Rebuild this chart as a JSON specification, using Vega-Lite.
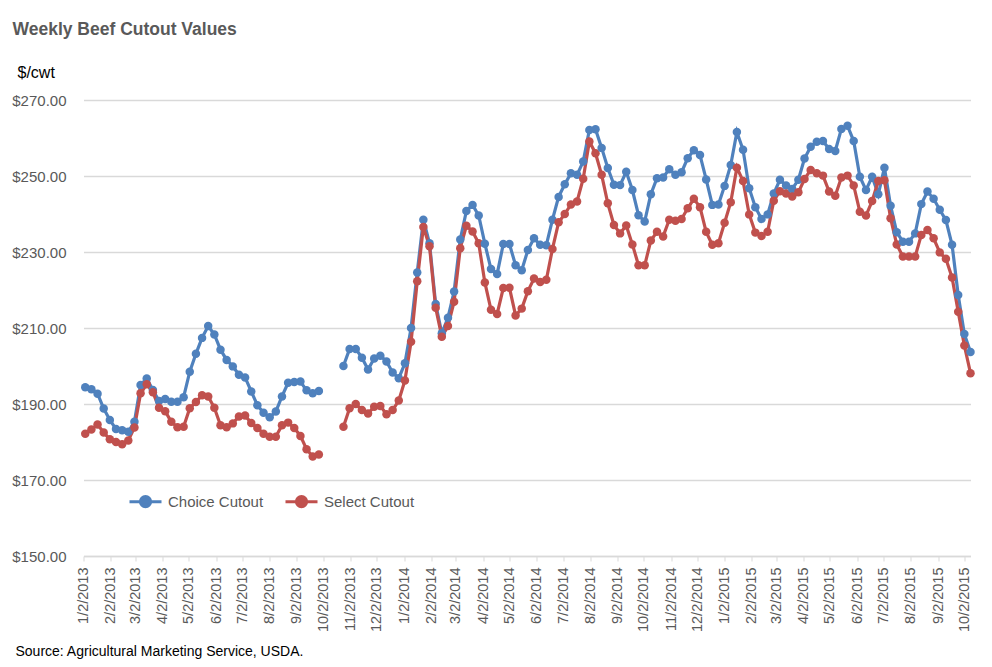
{
  "$schema": "https://vega.github.io/schema/vega-lite/v6.json",
  "autosize": {"type": "none"},
  "width": 887,
  "height": 456,
  "padding": {"left": 83.5, "top": 100, "right": 21.5, "bottom": 111},
  "background": "white",
  "config": {
    "view": {"stroke": null},
    "font": "Liberation Sans"
  },
  "title": {
    "text": "Weekly Beef Cutout Values",
    "anchor": "start",
    "frame": "group",
    "font": "Liberation Sans",
    "fontSize": 17.5,
    "fontWeight": "bold",
    "color": "#595959",
    "dx": -71,
    "offset": 26
  },
  "data": {
    "values": [
      {"date": "2013-01-04", "Choice Cutout": 194.4, "Select Cutout": 182.2},
      {"date": "2013-01-11", "Choice Cutout": 193.9, "Select Cutout": 183.3},
      {"date": "2013-01-18", "Choice Cutout": 192.7, "Select Cutout": 184.6},
      {"date": "2013-01-25", "Choice Cutout": 188.8, "Select Cutout": 182.5},
      {"date": "2013-02-01", "Choice Cutout": 185.8, "Select Cutout": 180.7},
      {"date": "2013-02-08", "Choice Cutout": 183.4, "Select Cutout": 180.0},
      {"date": "2013-02-15", "Choice Cutout": 183.1, "Select Cutout": 179.4},
      {"date": "2013-02-22", "Choice Cutout": 182.7, "Select Cutout": 180.4},
      {"date": "2013-03-01", "Choice Cutout": 185.3, "Select Cutout": 183.8},
      {"date": "2013-03-08", "Choice Cutout": 195.0, "Select Cutout": 192.8},
      {"date": "2013-03-15", "Choice Cutout": 196.7, "Select Cutout": 195.2},
      {"date": "2013-03-22", "Choice Cutout": 193.7, "Select Cutout": 193.1},
      {"date": "2013-03-29", "Choice Cutout": 190.8, "Select Cutout": 189.0},
      {"date": "2013-04-05", "Choice Cutout": 191.3, "Select Cutout": 188.1},
      {"date": "2013-04-12", "Choice Cutout": 190.6, "Select Cutout": 185.3},
      {"date": "2013-04-19", "Choice Cutout": 190.6, "Select Cutout": 183.9},
      {"date": "2013-04-26", "Choice Cutout": 191.8, "Select Cutout": 184.0},
      {"date": "2013-05-03", "Choice Cutout": 198.5, "Select Cutout": 188.9},
      {"date": "2013-05-10", "Choice Cutout": 203.2, "Select Cutout": 190.5},
      {"date": "2013-05-17", "Choice Cutout": 207.4, "Select Cutout": 192.3},
      {"date": "2013-05-24", "Choice Cutout": 210.5, "Select Cutout": 192.0},
      {"date": "2013-05-31", "Choice Cutout": 208.3, "Select Cutout": 189.0},
      {"date": "2013-06-07", "Choice Cutout": 204.3, "Select Cutout": 184.4},
      {"date": "2013-06-14", "Choice Cutout": 201.6, "Select Cutout": 183.9},
      {"date": "2013-06-21", "Choice Cutout": 199.9, "Select Cutout": 184.9},
      {"date": "2013-06-28", "Choice Cutout": 197.7, "Select Cutout": 186.7},
      {"date": "2013-07-05", "Choice Cutout": 197.0, "Select Cutout": 187.0},
      {"date": "2013-07-12", "Choice Cutout": 193.3, "Select Cutout": 185.0},
      {"date": "2013-07-19", "Choice Cutout": 189.7, "Select Cutout": 183.7},
      {"date": "2013-07-26", "Choice Cutout": 187.7, "Select Cutout": 182.2},
      {"date": "2013-08-02", "Choice Cutout": 186.5, "Select Cutout": 181.4},
      {"date": "2013-08-09", "Choice Cutout": 188.0, "Select Cutout": 181.4},
      {"date": "2013-08-16", "Choice Cutout": 192.0, "Select Cutout": 184.4},
      {"date": "2013-08-23", "Choice Cutout": 195.6, "Select Cutout": 185.1},
      {"date": "2013-08-30", "Choice Cutout": 195.8, "Select Cutout": 183.7},
      {"date": "2013-09-06", "Choice Cutout": 195.9, "Select Cutout": 181.6},
      {"date": "2013-09-13", "Choice Cutout": 193.6, "Select Cutout": 178.1},
      {"date": "2013-09-20", "Choice Cutout": 192.8, "Select Cutout": 176.2},
      {"date": "2013-09-27", "Choice Cutout": 193.4, "Select Cutout": 176.7},
      {"date": "2013-10-04", "Choice Cutout": null, "Select Cutout": null},
      {"date": "2013-10-11", "Choice Cutout": null, "Select Cutout": null},
      {"date": "2013-10-18", "Choice Cutout": null, "Select Cutout": null},
      {"date": "2013-10-25", "Choice Cutout": 200.0, "Select Cutout": 184.0},
      {"date": "2013-11-01", "Choice Cutout": 204.5, "Select Cutout": 188.9},
      {"date": "2013-11-08", "Choice Cutout": 204.5, "Select Cutout": 190.0},
      {"date": "2013-11-15", "Choice Cutout": 202.2, "Select Cutout": 188.4},
      {"date": "2013-11-22", "Choice Cutout": 199.1, "Select Cutout": 187.5},
      {"date": "2013-11-29", "Choice Cutout": 202.0, "Select Cutout": 189.3},
      {"date": "2013-12-06", "Choice Cutout": 202.7, "Select Cutout": 189.5},
      {"date": "2013-12-13", "Choice Cutout": 201.2, "Select Cutout": 187.3},
      {"date": "2013-12-20", "Choice Cutout": 198.3, "Select Cutout": 188.4},
      {"date": "2013-12-27", "Choice Cutout": 196.8, "Select Cutout": 190.9},
      {"date": "2014-01-03", "Choice Cutout": 200.7, "Select Cutout": 196.2},
      {"date": "2014-01-10", "Choice Cutout": 210.0, "Select Cutout": 206.4},
      {"date": "2014-01-17", "Choice Cutout": 224.6, "Select Cutout": 222.3},
      {"date": "2014-01-24", "Choice Cutout": 238.5, "Select Cutout": 236.6},
      {"date": "2014-01-31", "Choice Cutout": 232.3, "Select Cutout": 231.5},
      {"date": "2014-02-07", "Choice Cutout": 216.3, "Select Cutout": 215.3},
      {"date": "2014-02-14", "Choice Cutout": 208.6, "Select Cutout": 207.7},
      {"date": "2014-02-21", "Choice Cutout": 212.7, "Select Cutout": 210.5},
      {"date": "2014-02-28", "Choice Cutout": 219.6, "Select Cutout": 216.9},
      {"date": "2014-03-07", "Choice Cutout": 233.3, "Select Cutout": 231.0},
      {"date": "2014-03-14", "Choice Cutout": 240.8, "Select Cutout": 236.9},
      {"date": "2014-03-21", "Choice Cutout": 242.4, "Select Cutout": 235.4},
      {"date": "2014-03-28", "Choice Cutout": 239.6, "Select Cutout": 232.3},
      {"date": "2014-04-04", "Choice Cutout": 232.2, "Select Cutout": 222.0},
      {"date": "2014-04-11", "Choice Cutout": 225.5, "Select Cutout": 214.8},
      {"date": "2014-04-18", "Choice Cutout": 224.2, "Select Cutout": 213.7},
      {"date": "2014-04-25", "Choice Cutout": 232.1, "Select Cutout": 220.5},
      {"date": "2014-05-02", "Choice Cutout": 232.1, "Select Cutout": 220.6},
      {"date": "2014-05-09", "Choice Cutout": 226.5, "Select Cutout": 213.3},
      {"date": "2014-05-16", "Choice Cutout": 225.2, "Select Cutout": 215.1},
      {"date": "2014-05-23", "Choice Cutout": 230.5, "Select Cutout": 219.7},
      {"date": "2014-05-30", "Choice Cutout": 233.6, "Select Cutout": 223.0},
      {"date": "2014-06-06", "Choice Cutout": 231.9, "Select Cutout": 222.1},
      {"date": "2014-06-13", "Choice Cutout": 231.8, "Select Cutout": 222.7},
      {"date": "2014-06-20", "Choice Cutout": 238.5, "Select Cutout": 230.8},
      {"date": "2014-06-27", "Choice Cutout": 244.5, "Select Cutout": 237.8},
      {"date": "2014-07-04", "Choice Cutout": 247.8, "Select Cutout": 240.0},
      {"date": "2014-07-11", "Choice Cutout": 250.7, "Select Cutout": 242.5},
      {"date": "2014-07-18", "Choice Cutout": 250.3, "Select Cutout": 243.3},
      {"date": "2014-07-25", "Choice Cutout": 253.8, "Select Cutout": 249.3},
      {"date": "2014-08-01", "Choice Cutout": 262.1, "Select Cutout": 259.1},
      {"date": "2014-08-08", "Choice Cutout": 262.3, "Select Cutout": 256.0},
      {"date": "2014-08-15", "Choice Cutout": 257.4, "Select Cutout": 250.3},
      {"date": "2014-08-22", "Choice Cutout": 252.1, "Select Cutout": 242.8},
      {"date": "2014-08-29", "Choice Cutout": 247.7, "Select Cutout": 237.1},
      {"date": "2014-09-05", "Choice Cutout": 247.6, "Select Cutout": 234.9},
      {"date": "2014-09-12", "Choice Cutout": 251.1, "Select Cutout": 237.0},
      {"date": "2014-09-19", "Choice Cutout": 246.3, "Select Cutout": 232.0},
      {"date": "2014-09-26", "Choice Cutout": 239.7, "Select Cutout": 226.5},
      {"date": "2014-10-03", "Choice Cutout": 238.0, "Select Cutout": 226.5},
      {"date": "2014-10-10", "Choice Cutout": 245.2, "Select Cutout": 233.0},
      {"date": "2014-10-17", "Choice Cutout": 249.4, "Select Cutout": 235.3},
      {"date": "2014-10-24", "Choice Cutout": 249.6, "Select Cutout": 234.1},
      {"date": "2014-10-31", "Choice Cutout": 251.8, "Select Cutout": 238.5},
      {"date": "2014-11-07", "Choice Cutout": 250.3, "Select Cutout": 238.2},
      {"date": "2014-11-14", "Choice Cutout": 251.0, "Select Cutout": 238.7},
      {"date": "2014-11-21", "Choice Cutout": 254.7, "Select Cutout": 241.5},
      {"date": "2014-11-28", "Choice Cutout": 256.8, "Select Cutout": 244.0},
      {"date": "2014-12-05", "Choice Cutout": 255.5, "Select Cutout": 241.8},
      {"date": "2014-12-12", "Choice Cutout": 249.1, "Select Cutout": 235.3},
      {"date": "2014-12-19", "Choice Cutout": 242.4, "Select Cutout": 231.9},
      {"date": "2014-12-26", "Choice Cutout": 242.5, "Select Cutout": 232.3},
      {"date": "2015-01-02", "Choice Cutout": 247.4, "Select Cutout": 237.7},
      {"date": "2015-01-09", "Choice Cutout": 252.9, "Select Cutout": 243.1},
      {"date": "2015-01-16", "Choice Cutout": 261.6, "Select Cutout": 252.2},
      {"date": "2015-01-23", "Choice Cutout": 256.9, "Select Cutout": 248.7},
      {"date": "2015-01-30", "Choice Cutout": 246.8, "Select Cutout": 239.9},
      {"date": "2015-02-06", "Choice Cutout": 241.8, "Select Cutout": 235.1},
      {"date": "2015-02-13", "Choice Cutout": 238.7, "Select Cutout": 234.2},
      {"date": "2015-02-20", "Choice Cutout": 239.9, "Select Cutout": 235.3},
      {"date": "2015-02-27", "Choice Cutout": 245.4, "Select Cutout": 243.5},
      {"date": "2015-03-06", "Choice Cutout": 249.0, "Select Cutout": 246.0},
      {"date": "2015-03-13", "Choice Cutout": 247.5, "Select Cutout": 245.4},
      {"date": "2015-03-20", "Choice Cutout": 246.6, "Select Cutout": 244.6},
      {"date": "2015-03-27", "Choice Cutout": 249.0, "Select Cutout": 245.7},
      {"date": "2015-04-03", "Choice Cutout": 254.6, "Select Cutout": 249.2},
      {"date": "2015-04-10", "Choice Cutout": 257.7, "Select Cutout": 251.6},
      {"date": "2015-04-17", "Choice Cutout": 259.0, "Select Cutout": 250.7},
      {"date": "2015-04-24", "Choice Cutout": 259.2, "Select Cutout": 250.1},
      {"date": "2015-05-01", "Choice Cutout": 257.1, "Select Cutout": 245.9},
      {"date": "2015-05-08", "Choice Cutout": 256.6, "Select Cutout": 244.8},
      {"date": "2015-05-15", "Choice Cutout": 262.4, "Select Cutout": 249.6},
      {"date": "2015-05-22", "Choice Cutout": 263.2, "Select Cutout": 250.1},
      {"date": "2015-05-29", "Choice Cutout": 259.2, "Select Cutout": 247.5},
      {"date": "2015-06-05", "Choice Cutout": 249.8, "Select Cutout": 240.6},
      {"date": "2015-06-12", "Choice Cutout": 246.3, "Select Cutout": 239.6},
      {"date": "2015-06-19", "Choice Cutout": 249.8, "Select Cutout": 243.4},
      {"date": "2015-06-26", "Choice Cutout": 245.2, "Select Cutout": 248.7},
      {"date": "2015-07-03", "Choice Cutout": 252.2, "Select Cutout": 248.9},
      {"date": "2015-07-10", "Choice Cutout": 242.2, "Select Cutout": 238.9},
      {"date": "2015-07-17", "Choice Cutout": 235.2, "Select Cutout": 232.0},
      {"date": "2015-07-24", "Choice Cutout": 232.7, "Select Cutout": 228.8},
      {"date": "2015-07-31", "Choice Cutout": 232.7, "Select Cutout": 228.8},
      {"date": "2015-08-07", "Choice Cutout": 234.9, "Select Cutout": 228.8},
      {"date": "2015-08-14", "Choice Cutout": 242.6, "Select Cutout": 234.5},
      {"date": "2015-08-21", "Choice Cutout": 245.9, "Select Cutout": 235.8},
      {"date": "2015-08-28", "Choice Cutout": 244.0, "Select Cutout": 233.6},
      {"date": "2015-09-04", "Choice Cutout": 241.1, "Select Cutout": 229.9},
      {"date": "2015-09-11", "Choice Cutout": 238.4, "Select Cutout": 228.2},
      {"date": "2015-09-18", "Choice Cutout": 231.9, "Select Cutout": 223.3},
      {"date": "2015-09-25", "Choice Cutout": 218.7, "Select Cutout": 214.3},
      {"date": "2015-10-02", "Choice Cutout": 208.4, "Select Cutout": 205.4},
      {"date": "2015-10-09", "Choice Cutout": 203.7, "Select Cutout": 198.1}
    ]
  },
  "transform": [
    {"fold": ["Choice Cutout", "Select Cutout"], "as": ["series", "value"]}
  ],
  "encoding": {
    "x": {
      "field": "date",
      "type": "temporal",
      "scale": {
        "type": "utc",
        "domain": [
          {"year": 2013, "month": 1, "date": 2, "utc": true},
          {"year": 2015, "month": 10, "date": 9, "utc": true}
        ]
      },
      "axis": {
        "title": "Source: Agricultural Marketing Service, USDA.",
        "titleX": -68.5,
        "titleY": 99,
        "titleAlign": "left",
        "titleAnchor": "start",
        "titleBaseline": "alphabetic",
        "titleFont": "Liberation Sans",
        "titleFontSize": 14,
        "titleFontWeight": "normal",
        "titleColor": "#000000",
        "values": [
          {"year": 2013, "month": 1, "date": 2, "utc": true},
          {"year": 2013, "month": 2, "date": 2, "utc": true},
          {"year": 2013, "month": 3, "date": 2, "utc": true},
          {"year": 2013, "month": 4, "date": 2, "utc": true},
          {"year": 2013, "month": 5, "date": 2, "utc": true},
          {"year": 2013, "month": 6, "date": 2, "utc": true},
          {"year": 2013, "month": 7, "date": 2, "utc": true},
          {"year": 2013, "month": 8, "date": 2, "utc": true},
          {"year": 2013, "month": 9, "date": 2, "utc": true},
          {"year": 2013, "month": 10, "date": 2, "utc": true},
          {"year": 2013, "month": 11, "date": 2, "utc": true},
          {"year": 2013, "month": 12, "date": 2, "utc": true},
          {"year": 2014, "month": 1, "date": 2, "utc": true},
          {"year": 2014, "month": 2, "date": 2, "utc": true},
          {"year": 2014, "month": 3, "date": 2, "utc": true},
          {"year": 2014, "month": 4, "date": 2, "utc": true},
          {"year": 2014, "month": 5, "date": 2, "utc": true},
          {"year": 2014, "month": 6, "date": 2, "utc": true},
          {"year": 2014, "month": 7, "date": 2, "utc": true},
          {"year": 2014, "month": 8, "date": 2, "utc": true},
          {"year": 2014, "month": 9, "date": 2, "utc": true},
          {"year": 2014, "month": 10, "date": 2, "utc": true},
          {"year": 2014, "month": 11, "date": 2, "utc": true},
          {"year": 2014, "month": 12, "date": 2, "utc": true},
          {"year": 2015, "month": 1, "date": 2, "utc": true},
          {"year": 2015, "month": 2, "date": 2, "utc": true},
          {"year": 2015, "month": 3, "date": 2, "utc": true},
          {"year": 2015, "month": 4, "date": 2, "utc": true},
          {"year": 2015, "month": 5, "date": 2, "utc": true},
          {"year": 2015, "month": 6, "date": 2, "utc": true},
          {"year": 2015, "month": 7, "date": 2, "utc": true},
          {"year": 2015, "month": 8, "date": 2, "utc": true},
          {"year": 2015, "month": 9, "date": 2, "utc": true},
          {"year": 2015, "month": 10, "date": 2, "utc": true}
        ],
        "labelExpr": "utcFormat(datum.value, '%-m/%-d/%Y')",
        "labelAngle": -90,
        "labelAlign": "right",
        "labelBaseline": "middle",
        "labelFont": "Liberation Sans",
        "labelFontSize": 14.5,
        "labelColor": "#595959",
        "labelPadding": 6,
        "labelOverlap": false,
        "labelFlush": false,
        "labelBound": false,
        "tickSize": 5,
        "tickColor": "#d9d9d9",
        "domainColor": "#d9d9d9",
        "domainWidth": 1.3,
        "grid": false
      }
    },
    "y": {
      "field": "value",
      "type": "quantitative",
      "scale": {"domain": [150, 270], "nice": false, "zero": false},
      "axis": {
        "title": "$/cwt",
        "titleAngle": 0,
        "titleX": -66.5,
        "titleY": -22.3,
        "titleAlign": "left",
        "titleBaseline": "alphabetic",
        "titleFont": "Liberation Sans",
        "titleFontSize": 16,
        "titleFontWeight": "normal",
        "titleColor": "#000000",
        "values": [150, 170, 190, 210, 230, 250, 270],
        "format": "$.2f",
        "labelFont": "Liberation Sans",
        "labelFontSize": 15,
        "labelColor": "#595959",
        "labelPadding": 17.5,
        "ticks": false,
        "domain": false,
        "grid": true,
        "gridColor": "#d9d9d9",
        "gridWidth": 1.3
      }
    },
    "color": {
      "field": "series",
      "type": "nominal",
      "scale": {"domain": ["Choice Cutout", "Select Cutout"], "range": ["#4F81BD", "#C0504D"]},
      "legend": {
        "title": null,
        "orient": "none",
        "direction": "horizontal",
        "legendX": 44.5,
        "legendY": 384,
        "symbolType": "M-1,0L1,0M-0.32,0A0.32,0.32,0,1,1,0.32,0A0.32,0.32,0,1,1,-0.32,0Z",
        "symbolSize": 1024,
        "symbolStrokeWidth": 3,
        "labelFont": "Liberation Sans",
        "labelFontSize": 15,
        "labelColor": "#595959",
        "labelOffset": 5,
        "columnPadding": 15,
        "encode": {
          "symbols": {
            "update": {
              "fill": {"scale": "color", "field": "value"},
              "stroke": {"scale": "color", "field": "value"},
              "opacity": {"value": 1}
            }
          }
        }
      }
    }
  },
  "layer": [
    {
      "mark": {"type": "line", "strokeWidth": 3.2, "invalid": "break-paths-filter-domains"}
    },
    {
      "mark": {"type": "point", "shape": "circle", "filled": true, "size": 72, "opacity": 1, "invalid": "break-paths-filter-domains"}
    }
  ]
}
